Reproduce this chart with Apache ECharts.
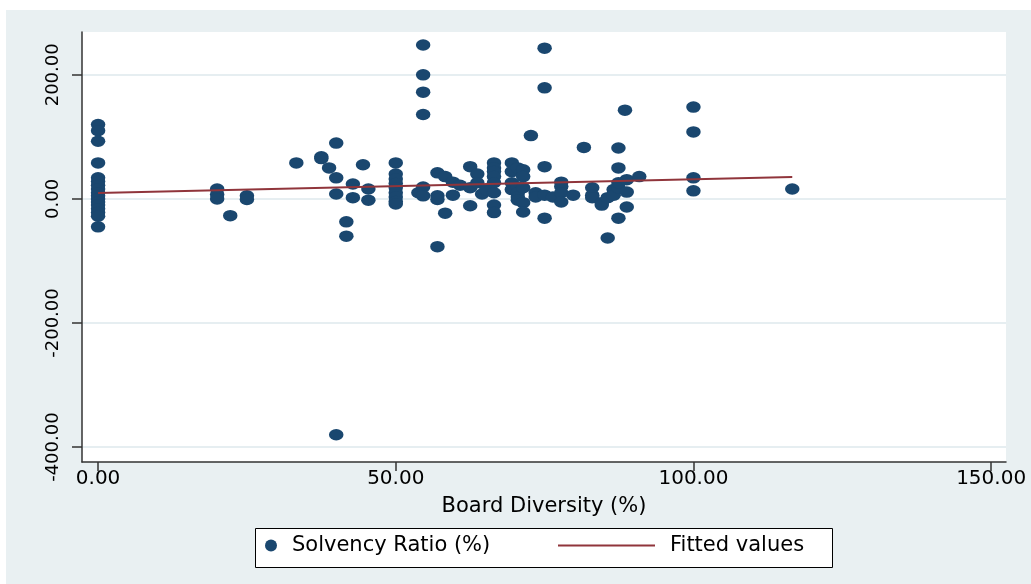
<!DOCTYPE html>
<html>
<head>
<meta charset="utf-8">
<title>Solvency Ratio vs Board Diversity</title>
<script src="https://cdn.jsdelivr.net/npm/echarts@6/dist/echarts.min.js"></script>
<style>
  html, body { margin: 0; padding: 0; background: #ffffff; }
  #chart { position: absolute; left: 6px; top: 10px; width: 1025px; height: 574px; }
</style>
</head>
<body>
<div id="chart"></div>
<script>
// Board diversity (%) for each firm-year observation
const boardDiversity = [
  0,0,0,0,0,0,0,0,0,0,0,0,0,0,0,0,0,
  20,20,20, 22.2, 25,25, 33.3, 37.5,37.5, 38.8,
  40,40,40,40, 41.7,41.7, 42.8,42.8, 44.5, 45.4,45.4,
  50,50,50,50,50,50,50,50,50, 53.8,
  54.6,54.6,54.6,54.6,54.6,54.6,
  57,57,57,57, 58.3,58.3, 59.6,59.6, 60.8,
  62.5,62.5,62.5, 63.7,63.7, 64.5, 65.2,
  66.5,66.5,66.5,66.5,66.5,66.5,66.5,66.5,
  69.5,69.5,69.5,69.5, 70.5,70.5,70.5,70.5,70.5,
  71.4,71.4,71.4,71.4,71.4, 72.7, 73.5,73.5,
  75,75,75,75,75, 76.4, 77.8,77.8,77.8,77.8, 79.8, 81.6,
  83,83,83, 84.6,84.6, 85.6,85.6, 86.6,86.6,
  87.4,87.4,87.4,87.4,87.4, 88.5, 88.8,88.8,88.8, 90.9,
  100,100,100,100, 116.6
];
// Solvency ratio (%) for the same observations
const solvencyRatio = [
  120,110,93,58,34,28,22,16,10,5,0,-5,-10,-16,-22,-28,-45,
  16,7,0, -27, 5,-1, 58, 68,65, 50,
  90,34,8,-380, -37,-60, 24,2, 55, 16,-2,
  58,40,32,25,18,10,3,-4,-8, 10,
  248,200,172,136,19,5,
  42,5,-1,-77, 36,-23, 27,6, 22,
  52,18,-11, 40,26, 8, 15,
  58,50,44,36,26,10,-10,-22,
  58,44,26,15, 50,19,10,3,-2,
  47,36,18,-6,-21, 102, 10,3,
  243,179,52,6,-31, 3, 27,20,10,-5, 6, 83,
  18,6,2, -6,-10, 2,-63, 15,6,
  82,50,18,26,-31, 143, 31,11,-13, 36,
  148,108,34,13, 16
];
// Linear fit drawn between its two end points
const fitX = [0, 116.6];
const fitY = [9.7, 35.5];

const xTicks = [0, 50, 100, 150];
const yTicks = [-400, -200, 0, 200];

const seriesNames = ['Solvency Ratio (%)', 'Fitted values'];
const xTitle = 'Board Diversity (%)';

const navy = '#1A476F';
const maroon = '#90353B';
const font = 'DejaVu Sans';

const scatterData = boardDiversity.map((x, i) => [x, solvencyRatio[i]]);
const fitData = fitX.map((x, i) => [x, fitY[i]]);

const chart = echarts.init(document.getElementById('chart'), null, { renderer: 'canvas' });
chart.setOption({
  animation: false,
  backgroundColor: '#E9F0F2',
  graphic: [{
    type: 'rect',
    z: 1,
    shape: { x: 249.5, y: 518.5, width: 577, height: 39 },
    style: { fill: '#ffffff', stroke: '#000000', lineWidth: 1 }
  }],
  grid: {
    left: 76, top: 22, right: 25, bottom: 122,
    show: true, backgroundColor: '#ffffff', borderWidth: 0,
    outerBoundsMode: 'none'
  },
  legend: [{
    z: 5,
    left: 259, top: 525, padding: 0,
    itemWidth: 14, itemHeight: 12,
    data: [{ name: seriesNames[0], icon: 'circle' }],
    textStyle: { fontFamily: font, fontSize: 21, color: '#000', padding: [0, 0, 0, 9] }
  }, {
    z: 5,
    left: 552, top: 525, padding: 0,
    itemWidth: 97, itemHeight: 2,
    data: [{ name: seriesNames[1], icon: 'rect', itemStyle: { color: maroon } }],
    textStyle: { fontFamily: font, fontSize: 21, color: '#000', padding: [0, 0, 0, 10] }
  }],
  xAxis: {
    type: 'value',
    min: -2.7, max: 152.5,
    name: xTitle,
    nameLocation: 'middle',
    nameGap: 34,
    nameTextStyle: { fontFamily: font, fontSize: 21, color: '#000' },
    axisLine: { show: true, onZero: false, lineStyle: { color: '#333', width: 1.5 } },
    axisTick: { show: true, length: 9, customValues: xTicks, lineStyle: { color: '#333', width: 1.5 } },
    axisLabel: {
      customValues: xTicks, margin: 7,
      fontFamily: font, fontSize: 20, color: '#000',
      formatter: v => v.toFixed(2)
    },
    splitLine: { show: false }
  },
  yAxis: {
    type: 'value',
    min: -424, max: 269,
    axisLine: { show: true, onZero: false, lineStyle: { color: '#333', width: 1.5 } },
    axisTick: { show: true, length: 10, customValues: yTicks, lineStyle: { color: '#333', width: 1.5 } },
    axisLabel: {
      customValues: yTicks, rotate: 90, margin: 20,
      fontFamily: font, fontSize: 18, color: '#000',
      formatter: v => v.toFixed(2)
    },
    splitLine: { show: true, lineStyle: { color: '#E6EEF1', width: 2 } }
  },
  series: [{
    name: seriesNames[0],
    type: 'scatter',
    symbol: 'circle',
    symbolSize: [14.5, 11.5],
    itemStyle: { color: navy, opacity: 1 },
    data: scatterData,
    z: 3
  }, {
    name: seriesNames[1],
    type: 'line',
    symbol: 'none',
    lineStyle: { color: maroon, width: 2 },
    itemStyle: { color: maroon },
    data: fitData,
    z: 4
  }]
});
</script>
</body>
</html>
